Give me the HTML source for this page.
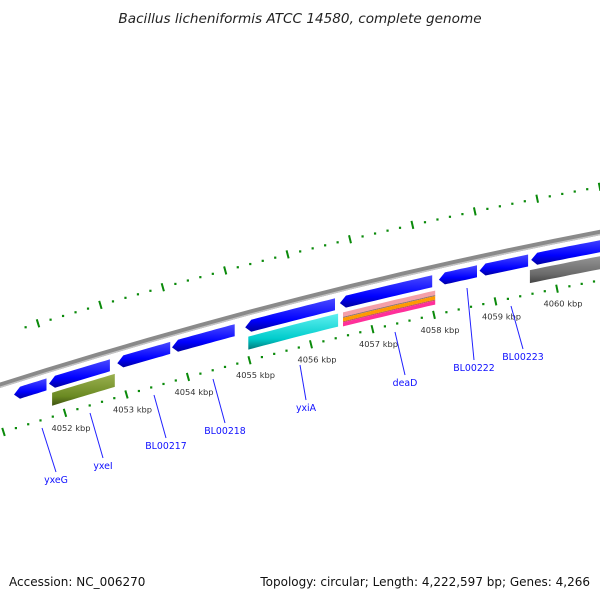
<!DOCTYPE html>
<html><head><meta charset="utf-8"><style>
body{margin:0;background:#fff}
svg{display:block;font-family:"DejaVu Sans","Liberation Sans",sans-serif}
</style></head><body>
<svg id="chart" width="600" height="600" viewBox="0 0 600 600" xmlns="http://www.w3.org/2000/svg">
<defs>
<linearGradient id="gBlue" x1="0" y1="0" x2="0" y2="1"><stop offset="0" stop-color="#4a4aff"/><stop offset="0.65" stop-color="#0000ff"/><stop offset="1" stop-color="#0000a0"/></linearGradient>
<linearGradient id="gOlive" x1="0" y1="0" x2="0" y2="1"><stop offset="0" stop-color="#9ab050"/><stop offset="0.7" stop-color="#6b8a22"/><stop offset="1" stop-color="#3e5210"/></linearGradient>
<linearGradient id="gCyan" x1="0" y1="0" x2="0" y2="1"><stop offset="0" stop-color="#5ff0f0"/><stop offset="0.7" stop-color="#00cccc"/><stop offset="1" stop-color="#007a7a"/></linearGradient>
<linearGradient id="gGray" x1="0" y1="0" x2="0" y2="1"><stop offset="0" stop-color="#9a9a9a"/><stop offset="0.7" stop-color="#6a6a6a"/><stop offset="1" stop-color="#444"/></linearGradient>
</defs>
<text x="300" y="23" text-anchor="middle" font-size="13.6" font-style="italic" fill="#222">Bacillus licheniformis ATCC 14580, complete genome</text>
<g id="layer"></g>
<text x="9" y="586" font-size="12" fill="#111">Accession: NC_006270</text>
<text x="590" y="586" text-anchor="end" font-size="12" fill="#111">Topology: circular; Length: 4,222,597 bp; Genes: 4,266</text>
</svg>
<script>
// data (kbp)
const tickKbp = [4052,4053,4054,4055,4056,4057,4058,4059,4060];
const tickLabels = ["4052 kbp","4053 kbp","4054 kbp","4055 kbp","4056 kbp","4057 kbp","4058 kbp","4059 kbp","4060 kbp"];
const geneStart = [4051.17,4051.74,4052.85,4053.74,4054.93,4056.47,4058.08,4058.74,4059.58];
const geneEnd   = [4051.70,4052.73,4053.71,4054.76,4056.39,4057.97,4058.70,4059.53,4060.90];
const featType = ["olive","cyan","pink","gray"];
const featStart = [4051.79,4054.98,4056.52,4059.56];
const featEnd   = [4052.81,4056.44,4058.02,4060.90];
const geneNames = ["yxeG","yxeI","BL00217","BL00218","yxiA","deaD","BL00222","BL00223"];

const NS="http://www.w3.org/2000/svg";
const layer=document.getElementById('layer');
function X(k){return 65+(k-4052)*61.5;}
function Y(x){return 385-0.318*x+1.056e-4*x*x;}
function S(x){return -0.318+2*1.056e-4*x;}
function mk(tag,attrs){const e=document.createElementNS(NS,tag);for(const k in attrs)e.setAttribute(k,attrs[k]);layer.appendChild(e);return e;}
function band(x1,x2,o1,o2){let p=[];const n=12;for(let i=0;i<=n;i++){const x=x1+(x2-x1)*i/n;p.push([x,Y(x)+o1]);}for(let i=n;i>=0;i--){const x=x1+(x2-x1)*i/n;p.push([x,Y(x)+o2]);}return p;}
function pts(p){return p.map(q=>q[0].toFixed(1)+','+q[1].toFixed(1)).join(' ');}

// outer ring
for(let i=-1;i<=60;i++){
  const x=38+i*62.4/5; if(x<-5||x>605)continue;
  const off=-50+x*0.0075, y=Y(x)+off, s=S(x);
  if(i%5===0){const e=mk('line',{x1:x+s*4,y1:y-4,x2:x-s*4,y2:y+4,stroke:'#0a8a0a','stroke-width':2});
    }
  else{const e=mk('rect',{x:x-1,y:y-1,width:2.2,height:2.2,fill:'#0a8a0a'});
    }
}
// backbone
{const p=band(-5,605,-2.5,3);const e=mk('polygon',{points:pts(p),fill:'#8a8a8a'});

const l=band(-5,605,1.5,3);const e2=mk('polygon',{points:pts(l),fill:'#c4c4c4'});
}

// inner ring ticks
for(let i=-5;i<=50;i++){
  const k=4052+i/5, x=X(k); if(x<-5||x>605)continue;
  const y=Y(x)+48, s=S(x);
  if(i%5===0){const e=mk('line',{x1:x+s*4,y1:y-4,x2:x-s*4,y2:y+4,stroke:'#0a8a0a','stroke-width':2});
    }
  else{const e=mk('rect',{x:x-1,y:y-1,width:2.2,height:2.2,fill:'#0a8a0a'});
    }
}
tickKbp.forEach((k,i)=>{const x=X(k);const t=mk('text',{x:x+6,y:Y(x)+66,'text-anchor':'middle','font-size':8.3,fill:'#333'});
  t.textContent=tickLabels[i];});

// genes
geneStart.forEach((g,i)=>{
  const x1=X(g),x2=X(geneEnd[i]);const o1=8,o2=20,ah=6;
  let p=band(x1+ah,x2,o1,o2);
  p.push([x1,Y(x1)+(o1+o2)/2]);
  const e=mk('polygon',{points:pts(p),fill:'url(#gBlue)'});
  
});
// features row 2
featStart.forEach((f,i)=>{
  const x1=X(f),x2=X(featEnd[i]);const t=featType[i];
  if(t==='pink'){
    const rows=[[24,28.5,'#f4a0a8'],[28.5,29.5,'#8a7070'],[29.5,33,'#ff9a00'],[33,34,'#c05050'],[34,38,'#ff2f9a']];
    rows.forEach(r=>{const e=mk('polygon',{points:pts(band(x1,x2,r[0],r[1])),fill:r[2]});
      });
  } else {
    const fill={olive:'url(#gOlive)',cyan:'url(#gCyan)',gray:'url(#gGray)'}[t];
    const e=mk('polygon',{points:pts(band(x1,x2,24,37)),fill:fill});
    
  }
});
// gene labels
const lblOff=[[42,428,56,472],[90,413,103,458],[154,395,166,438],[213,379,225,423],[300,365,306,400],[395,332,405,375],[467,288,474,360],[511,306,523,349]];
geneNames.forEach((n,i)=>{
  const L=lblOff[i];
  const e=mk('line',{x1:L[0],y1:L[1],x2:L[2],y2:L[3],stroke:'#2020ff','stroke-width':1});
  
  const t=mk('text',{x:L[2],y:L[3]+11,'text-anchor':'middle','font-size':9.4,fill:'#1010ff'});
  t.textContent=n;
});
</script>
</body></html>
